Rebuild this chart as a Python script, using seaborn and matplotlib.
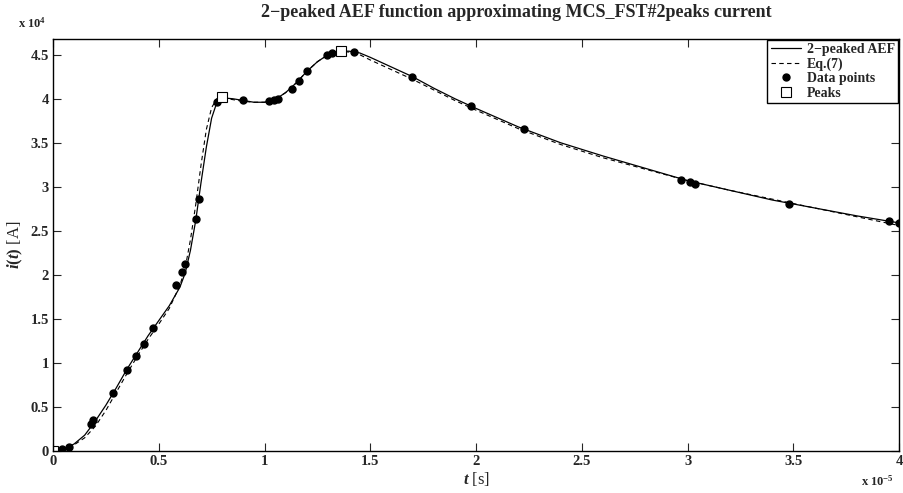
import matplotlib
matplotlib.use('Agg')
import matplotlib.pyplot as plt
import numpy as np
import pandas as pd
import seaborn as sns

# time in units of 1e-5 s, current in units of 1e4 A
t_curve = [0, 0.05, 0.1, 0.15, 0.2, 0.25, 0.3, 0.35, 0.4, 0.45, 0.5, 0.55, 0.6,
           0.625, 0.65, 0.675, 0.7, 0.725, 0.75, 0.775, 0.8, 0.85, 0.9, 0.95,
           1.0, 1.05, 1.1, 1.15, 1.2, 1.25, 1.3, 1.35, 1.4, 1.45, 1.5, 1.6,
           1.7, 1.8, 1.9, 2.0, 2.2, 2.4, 2.6, 2.8, 3.0, 3.2, 3.4, 3.6, 3.8, 4.0]
i_aef = [0, 0.02, 0.08, 0.18, 0.34, 0.52, 0.72, 0.93, 1.12, 1.31, 1.48, 1.65, 1.86,
         2.02, 2.28, 2.62, 3.05, 3.45, 3.78, 3.96, 4.01, 4.00, 3.98, 3.96,
         3.96, 3.99, 4.07, 4.18, 4.31, 4.42, 4.50, 4.54, 4.54, 4.52, 4.47, 4.36,
         4.25, 4.12, 4.00, 3.89, 3.68, 3.50, 3.35, 3.21, 3.07, 2.96, 2.85, 2.76, 2.67, 2.59]
i_eq7 = [0, 0.03, 0.07, 0.15, 0.28, 0.46, 0.67, 0.88, 1.08, 1.27, 1.44, 1.62, 1.88,
         2.08, 2.40, 2.80, 3.25, 3.65, 3.90, 4.00, 4.01, 3.99, 3.97, 3.96,
         3.96, 3.99, 4.07, 4.18, 4.31, 4.42, 4.50, 4.54, 4.53, 4.50, 4.44, 4.33,
         4.22, 4.10, 3.98, 3.87, 3.66, 3.48, 3.33, 3.20, 3.07, 2.96, 2.86, 2.76, 2.66, 2.56]

t_data = [0.0, 0.041, 0.076, 0.178, 0.191, 0.282, 0.351, 0.392, 0.430, 0.474,
          0.583, 0.611, 0.626, 0.674, 0.688, 0.774, 0.897, 1.023, 1.046, 1.062,
          1.128, 1.161, 1.203, 1.297, 1.318, 1.425, 1.699, 1.975, 2.228, 2.968,
          3.012, 3.035, 3.481, 3.953, 4.0]
i_data = [0.0, 0.02, 0.05, 0.31, 0.35, 0.66, 0.92, 1.08, 1.22, 1.40,
          1.89, 2.03, 2.12, 2.64, 2.86, 3.96, 3.99, 3.97, 3.99, 4.00,
          4.11, 4.20, 4.31, 4.50, 4.52, 4.53, 4.25, 3.92, 3.66, 3.08,
          3.05, 3.03, 2.80, 2.61, 2.59]

t_peaks = [0.0, 0.80, 1.362]
i_peaks = [0.0, 4.02, 4.54]

sns.set_style('ticks')
plt.rcParams['font.family'] = ['Liberation Serif', 'DejaVu Serif']
plt.rcParams['mathtext.fontset'] = 'custom'
plt.rcParams['mathtext.it'] = 'Liberation Serif:italic:bold'
plt.rcParams['mathtext.rm'] = 'Liberation Serif:bold'

fig = plt.figure(figsize=(9.04, 4.93), dpi=100)
ax = fig.add_axes([0.0586, 0.0852, 0.936, 0.836])

curves = pd.DataFrame({'t': t_curve, 'aef': i_aef, 'eq7': i_eq7})
sns.lineplot(data=curves, x='t', y='aef', ax=ax, color='black', lw=0.9,
             label='2\u2212peaked AEF')
sns.lineplot(data=curves, x='t', y='eq7', ax=ax, color='black', lw=0.8,
             linestyle=(0, (4, 3)), label='Eq.(7)')
ax.plot(t_data, i_data, 'o', color='black', ms=5, label='Data points')
ax.plot(t_peaks, i_peaks, 's', mfc='white', mec='black', mew=0.8, ms=6.5,
        label='Peaks')

ax.set_xlim(0, 4)
ax.set_ylim(0, 4.68)
ax.set_xticks(np.arange(0, 4.01, 0.5))
ax.set_yticks(np.arange(0, 4.51, 0.5))
ax.set_xticklabels(['0', '0.5', '1', '1.5', '2', '2.5', '3', '3.5', '4'])
ax.set_yticklabels(['0', '0.5', '1', '1.5', '2', '2.5', '3', '3.5', '4', '4.5'])
for lab in ax.get_xticklabels() + ax.get_yticklabels():
    lab.set_fontweight('bold')
    lab.set_fontsize(10.5)
ax.tick_params(direction='in', length=6, width=0.8, top=True, right=True,
               pad=3)
for s in ax.spines.values():
    s.set_visible(True)
    s.set_linewidth(1.0)
    s.set_color('black')

ax.set_xlabel(r'$t$ [s]', fontsize=12, labelpad=1)
ax.set_ylabel(r'$i(t)$ [A]', fontsize=12, labelpad=4)
ax.set_title('2\u2212peaked AEF function approximating MCS_FST#2peaks current',
             fontsize=13, fontweight='bold', x=0.548, pad=16)

ax.text(-0.025, 1.019, r'x 10$^{4}$', transform=ax.transAxes, fontsize=9,
        fontweight='bold', ha='center', va='bottom')
ax.text(0.975, -0.056, r'x 10$^{-5}$', transform=ax.transAxes, fontsize=9,
        fontweight='bold', ha='center', va='top')

leg = ax.legend(loc='upper right', borderaxespad=0.05, frameon=True,
                fancybox=False, edgecolor='black', framealpha=1,
                prop={'family': 'Liberation Serif', 'weight': 'bold', 'size': 10},
                handlelength=2.2, handletextpad=0.4, labelspacing=0.1,
                borderpad=0.25)
leg.get_frame().set_linewidth(1.0)

fig.savefig('out.png', dpi=100)
